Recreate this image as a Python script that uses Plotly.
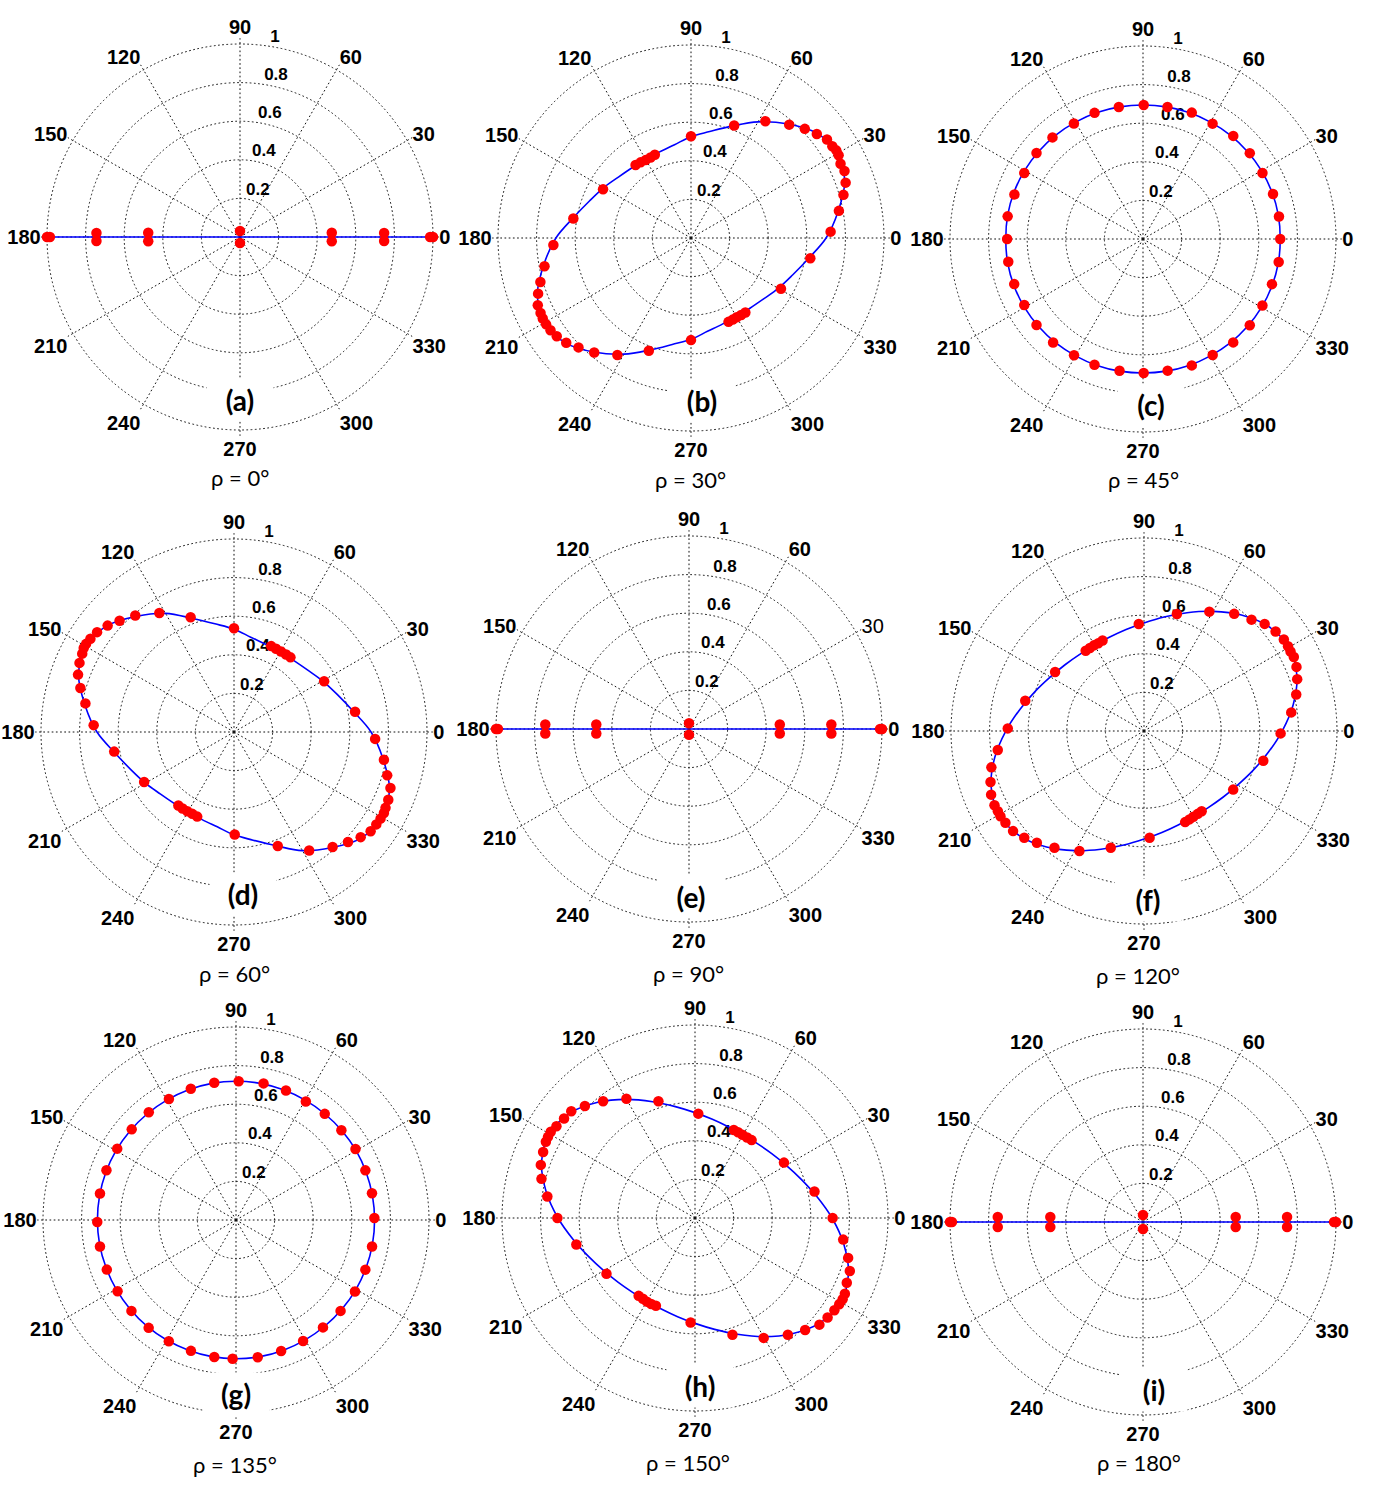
import plotly.graph_objs as go

W, H = 1376, 1488
R_PX = 193          # pixel radius of the r = 1 circle

# ---------------- data ----------------
PANEL_TAGS = ['(a)', '(b)', '(c)', '(d)', '(e)', '(f)', '(g)', '(h)', '(i)']
RHO_LABELS = ['ρ = 0°', 'ρ = 30°', 'ρ = 45°', 'ρ = 60°', 'ρ = 90°',
              'ρ = 120°', 'ρ = 135°', 'ρ = 150°', 'ρ = 180°']

ANGLE_TICKS = [0, 30, 60, 90, 120, 150, 180, 210, 240, 270, 300, 330]
RADIAL_TICKS = [0.2, 0.4, 0.6, 0.8, 1]
RADIAL_TICK_TEXT = ['0.2', '0.4', '0.6', '0.8', '1']

# theta grid used for the fitted (blue) curves
CURVE_THETA = [0, 10, 20, 30, 40, 50, 60, 70, 80, 90, 100, 110, 120, 130, 140, 150, 160, 170,
               180, 190, 200, 210, 220, 230, 240, 250, 260, 270, 280, 290, 300, 310, 320, 330,
               340, 350, 360]

# linear polarisation panels (a), (e), (i)
LINE_THETA = [0, 180]
LINE_R = [1, 1]

A_DOT_THETA = [0, 0, 1.6, -1.6, 2.6, -2.6, 90, 270, 182.6, 177.4, 181.6, 178.4, 180, 180]
A_DOT_R = [1.0, 0.985, 0.747, 0.747, 0.476, 0.476, 0.031, 0.031, 0.476, 0.476, 0.744, 0.744, 0.985, 1.0]

E_DOT_THETA = [0, 0, 1.8, -1.8, 2.8, -2.8, 90, 270, 182.8, 177.2, 181.8, 178.2, 180, 180]
E_DOT_R = [1.0, 0.99, 0.738, 0.738, 0.471, 0.471, 0.03, 0.03, 0.481, 0.481, 0.745, 0.745, 0.99, 1.0]

I_DOT_THETA = [0, 0, 2.0, -2.0, 3.1, -3.1, 90, 270, 183.1, 176.9, 182.0, 178.0, 180, 180]
I_DOT_R = [1.0, 0.99, 0.747, 0.747, 0.481, 0.481, 0.036, 0.036, 0.481, 0.481, 0.753, 0.753, 0.99, 1.0]

# rho = 30
B_DOT_THETA = [90, 69.0, 57.5, 49.1, 43.8, 39.6, 35.9, 33.0, 31.1, 29.3, 26.4, 23.6, 19.7, 15.8, 10.4,
               2.6, 350.4, 330.6, 306.1, 303.1, 300.0, 297.1, 294.1, 270, 249.5, 237.8, 229.8, 224.2,
               220.0, 216.2, 213.3, 210.8, 208.5, 206.5, 203.7, 200.0, 196.3, 190.9, 182.9, 170.6,
               151.0, 127.2, 123.7, 120.2, 116.7, 113.5]
B_DOT_R = [0.527, 0.624, 0.717, 0.777, 0.817, 0.846, 0.870, 0.873, 0.879, 0.877, 0.865, 0.868, 0.851,
           0.821, 0.779, 0.724, 0.627, 0.535, 0.478, 0.476, 0.474, 0.475, 0.476, 0.529, 0.624, 0.716,
           0.777, 0.813, 0.844, 0.862, 0.871, 0.874, 0.874, 0.871, 0.867, 0.843, 0.813, 0.773, 0.714,
           0.618, 0.521, 0.475, 0.471, 0.467, 0.467, 0.470]
B_CURVE_R = [0.700, 0.773, 0.847, 0.878, 0.847, 0.773, 0.695, 0.617, 0.560, 0.525, 0.491, 0.475, 0.470,
             0.475, 0.491, 0.522, 0.560, 0.617, 0.700, 0.773, 0.847, 0.878, 0.847, 0.773, 0.695, 0.617,
             0.560, 0.525, 0.491, 0.475, 0.470, 0.475, 0.491, 0.522, 0.560, 0.617, 0.700]

# rho = 45
C_DOT_THETA = [0, 9.4, 19.1, 28.9, 38.8, 48.8, 58.9, 68.9, 79.5, 89.7, 100.4, 111, 120.9, 131.7, 141.1,
               150.9, 160.9, 170.5, 180, 189.6, 199.3, 209.1, 218.9, 229, 239.3, 248.9, 259.9, 270.3,
               280.6, 291.1, 301, 311.1, 321.1, 330.9, 340.7, 350.4]
C_DOT_R = [0.711, 0.714, 0.713, 0.707, 0.710, 0.710, 0.698, 0.702, 0.696, 0.694, 0.695, 0.700, 0.697,
           0.705, 0.709, 0.704, 0.705, 0.711, 0.704, 0.708, 0.707, 0.704, 0.709, 0.710, 0.700, 0.698,
           0.693, 0.694, 0.694, 0.702, 0.701, 0.711, 0.711, 0.708, 0.708, 0.713]
C_CURVE_R = [0.711, 0.712, 0.711, 0.709, 0.706, 0.703, 0.699, 0.697, 0.695, 0.694, 0.695, 0.697, 0.699,
             0.703, 0.706, 0.709, 0.711, 0.712, 0.711, 0.712, 0.711, 0.709, 0.706, 0.703, 0.699, 0.697,
             0.695, 0.694, 0.695, 0.697, 0.699, 0.703, 0.706, 0.709, 0.711, 0.712, 0.711]

# rho = 60
D_DOT_THETA = [90, 110.7, 122.1, 130.3, 135.8, 139.9, 143.9, 147.0, 149.2, 150.8, 152.7, 155.9, 159.8,
               164.0, 169.1, 177.2, 189.3, 209.1, 232.9, 236.1, 239.5, 243.0, 246.5, 270.4, 291.0, 302.4,
               310.6, 316.0, 320.3, 324.0, 327.0, 329.4, 331.6, 333.4, 336.3, 340.3, 344.2, 349.5, 357.2,
               9.5, 29.4, 66.6, 63.2, 59.7, 56.1, 52.9]
D_DOT_R = [0.538, 0.636, 0.728, 0.791, 0.827, 0.856, 0.878, 0.887, 0.892, 0.892, 0.885, 0.877, 0.861,
           0.828, 0.784, 0.728, 0.629, 0.533, 0.478, 0.478, 0.477, 0.476, 0.478, 0.531, 0.633, 0.727,
           0.785, 0.821, 0.853, 0.875, 0.879, 0.882, 0.883, 0.878, 0.873, 0.861, 0.825, 0.790, 0.732,
           0.636, 0.536, 0.485, 0.483, 0.483, 0.484, 0.485]
D_CURVE_R = [0.710, 0.626, 0.569, 0.530, 0.499, 0.483, 0.480, 0.483, 0.499, 0.533, 0.569, 0.626, 0.710,
             0.783, 0.857, 0.888, 0.857, 0.783, 0.710, 0.626, 0.569, 0.530, 0.499, 0.483, 0.480, 0.483,
             0.499, 0.533, 0.569, 0.626, 0.710, 0.783, 0.857, 0.888, 0.857, 0.783, 0.710]

# rho = 120
F_DOT_THETA = [92.8, 74.3, 61.3, 52.4, 46.0, 41.6, 37.1, 33.2, 30.5, 28.5, 26.3, 22.8, 18.7, 13.5, 7.2,
               359.0, 346.0, 326.7, 294.3, 297.2, 299.9, 303.0, 305.7, 273.0, 254.1, 241.7, 232.5, 226.2,
               221.7, 217.4, 213.5, 210.7, 208.8, 206.4, 202.6, 198.4, 193.4, 187.4, 178.9, 165.7, 146.4,
               126.0, 123.1, 120.3, 117.5, 114.6]
F_DOT_R = [0.555, 0.630, 0.705, 0.766, 0.802, 0.836, 0.855, 0.866, 0.866, 0.864, 0.866, 0.857, 0.838,
           0.811, 0.769, 0.708, 0.637, 0.553, 0.518, 0.515, 0.513, 0.512, 0.512, 0.554, 0.629, 0.706,
           0.762, 0.802, 0.831, 0.854, 0.861, 0.865, 0.864, 0.865, 0.858, 0.838, 0.813, 0.764, 0.706,
           0.635, 0.553, 0.514, 0.513, 0.514, 0.513, 0.516]
F_CURVE_R = [0.716, 0.785, 0.843, 0.866, 0.843, 0.785, 0.716, 0.652, 0.600, 0.560, 0.534, 0.518, 0.513,
             0.518, 0.534, 0.560, 0.600, 0.652, 0.716, 0.785, 0.843, 0.866, 0.843, 0.785, 0.716, 0.652,
             0.600, 0.560, 0.534, 0.518, 0.513, 0.518, 0.534, 0.560, 0.600, 0.652, 0.716]

# rho = 135
G_DOT_THETA = [0.8, 11.1, 21.0, 30.7, 40.4, 50.1, 59.5, 68.9, 78.6, 88.9, 99, 109, 119, 129, 139, 149,
               159, 169, 180.8, 191, 201, 211, 221, 231, 241, 251, 261, 268.6, 279, 289, 299, 309, 319,
               329, 339, 349]
G_DOT_R = [0.717, 0.718, 0.718, 0.720, 0.717, 0.717, 0.713, 0.719, 0.722, 0.719, 0.720, 0.719, 0.717,
           0.718, 0.716, 0.718, 0.719, 0.718, 0.719, 0.718, 0.717, 0.716, 0.718, 0.719, 0.718, 0.717,
           0.719, 0.719, 0.720, 0.718, 0.717, 0.716, 0.718, 0.719, 0.718, 0.718]
G_CURVE_R = [0.718, 0.718, 0.718, 0.719, 0.718, 0.717, 0.717, 0.718, 0.719, 0.719, 0.719, 0.718, 0.717,
             0.717, 0.717, 0.718, 0.718, 0.718, 0.718, 0.718, 0.717, 0.717, 0.717, 0.718, 0.718, 0.718,
             0.719, 0.719, 0.719, 0.718, 0.717, 0.717, 0.717, 0.718, 0.718, 0.718, 0.718]

# rho = 150
H_DOT_THETA = [88.2, 107.4, 119.9, 128.2, 134.5, 139.2, 142.8, 146.5, 149.1, 151.1, 152.9, 156.5, 161.0,
               165.7, 171.7, 180.0, 192.6, 212.2, 234.1, 237.2, 240.1, 243.0, 246.0, 267.6, 287.8, 299.8,
               308.5, 314.5, 319.4, 323.1, 326.5, 329.1, 331.2, 333.2, 336.9, 341.1, 345.4, 351.7, 0.0,
               12.5, 31.9, 66.2, 63.3, 60.3, 57.1, 54.0]
H_DOT_R = [0.541, 0.634, 0.713, 0.770, 0.814, 0.847, 0.852, 0.861, 0.871, 0.870, 0.868, 0.858, 0.845,
           0.821, 0.773, 0.713, 0.630, 0.542, 0.498, 0.498, 0.500, 0.500, 0.498, 0.542, 0.635, 0.716,
           0.773, 0.814, 0.849, 0.859, 0.866, 0.871, 0.873, 0.870, 0.855, 0.848, 0.820, 0.776, 0.713,
           0.634, 0.543, 0.498, 0.497, 0.496, 0.497, 0.499]
H_CURVE_R = [0.710, 0.641, 0.586, 0.546, 0.519, 0.503, 0.498, 0.503, 0.519, 0.546, 0.586, 0.641, 0.710,
             0.783, 0.846, 0.872, 0.846, 0.783, 0.710, 0.641, 0.586, 0.546, 0.519, 0.503, 0.498, 0.503,
             0.519, 0.546, 0.586, 0.641, 0.710, 0.783, 0.846, 0.872, 0.846, 0.783, 0.710]

# ---------------- layout (pixel positions in the reference page) ----------------
PANEL_CENTERS = [(240, 237), (691, 238), (1143, 239),
                 (234, 732), (689, 729), (1144, 731),
                 (236, 1220), (695, 1218), (1143, 1222)]
TAG_POS = [(240, 400), (702, 401), (1151, 405),
           (243, 894), (691, 897), (1148, 900),
           (236, 1394), (700, 1386), (1154, 1390)]
RHO_POS = [(240, 477), (691, 480), (1143, 480),
           (234, 973), (688, 973), (1138, 975),
           (235, 1464), (688, 1462), (1139, 1462)]

R_MAX = 1.03          # a little past 1 so that the r = 1 grid circle is drawn
DOM_PX = R_PX * R_MAX
RLABEL_ANGLE = 81     # direction along which the radial tick labels sit
GRID = '#111111'
DASH = '1.7px,2.5px'
TICK_FONT = dict(family='Liberation Sans, Arial', size=20, color='black')
RTICK_FONT = dict(family='Liberation Sans, Arial', size=17, color='black', weight='bold')
LABEL_FONT = 'Lato, Carlito, Open Sans, sans-serif'

panels = [
    (LINE_THETA, LINE_R, A_DOT_THETA, A_DOT_R, 'linear'),
    (CURVE_THETA, B_CURVE_R, B_DOT_THETA, B_DOT_R, 'spline'),
    (CURVE_THETA, C_CURVE_R, C_DOT_THETA, C_DOT_R, 'spline'),
    (CURVE_THETA, D_CURVE_R, D_DOT_THETA, D_DOT_R, 'spline'),
    (LINE_THETA, LINE_R, E_DOT_THETA, E_DOT_R, 'linear'),
    (CURVE_THETA, F_CURVE_R, F_DOT_THETA, F_DOT_R, 'spline'),
    (CURVE_THETA, G_CURVE_R, G_DOT_THETA, G_DOT_R, 'spline'),
    (CURVE_THETA, H_CURVE_R, H_DOT_THETA, H_DOT_R, 'spline'),
    (LINE_THETA, LINE_R, I_DOT_THETA, I_DOT_R, 'linear'),
]


def px_x(x):
    return x / W


def px_y(y):
    return 1 - y / H


def polar_layout(cx, cy, plain_30=False):
    ang_text = []
    for t in ANGLE_TICKS:
        if plain_30 and t == 30:
            ang_text.append(str(t))
        else:
            ang_text.append('<b>%d</b>' % t)
    return dict(
        domain=dict(x=[px_x(cx - DOM_PX), px_x(cx + DOM_PX)],
                    y=[px_y(cy + DOM_PX), px_y(cy - DOM_PX)]),
        bgcolor='white',
        radialaxis=dict(range=[0, R_MAX], tickvals=RADIAL_TICKS, showticklabels=False,
                        angle=RLABEL_ANGLE, showline=False, ticks='',
                        gridcolor=GRID, griddash=DASH, gridwidth=1.4,
                        layer='below traces'),
        angularaxis=dict(tickvals=ANGLE_TICKS, ticktext=ang_text,
                         direction='counterclockwise', rotation=0,
                         showline=False, ticks='',
                         gridcolor=GRID, griddash=DASH, gridwidth=1.4,
                         tickfont=TICK_FONT, layer='below traces'),
    )


fig = go.Figure()
layout_polars = {}
annotations = []

for i, (c_theta, c_r, d_theta, d_r, shape) in enumerate(panels):
    name = 'polar' if i == 0 else 'polar%d' % (i + 1)
    cx, cy = PANEL_CENTERS[i]
    layout_polars[name] = polar_layout(cx, cy, plain_30=(i == 4))

    # radial tick labels, MATLAB style: bottom-left corner at (r, ~81 deg)
    fig.add_trace(go.Scatterpolar(
        r=RADIAL_TICKS, theta=[RLABEL_ANGLE] * len(RADIAL_TICKS), mode='text',
        text=RADIAL_TICK_TEXT, textposition='top right', textfont=RTICK_FONT,
        subplot=name, cliponaxis=False, hoverinfo='skip'))

    fig.add_trace(go.Scatterpolar(
        r=c_r, theta=c_theta, mode='lines', subplot=name,
        line=dict(color='#0000ff', width=1.6, shape=shape, smoothing=1),
        hoverinfo='skip'))
    fig.add_trace(go.Scatterpolar(
        r=d_r, theta=d_theta, mode='markers', subplot=name,
        marker=dict(color='#ff0000', size=10.5, line=dict(width=0))))

    tx, ty = TAG_POS[i]
    annotations.append(dict(
        text='<b>%s</b>' % PANEL_TAGS[i], x=px_x(tx), y=px_y(ty), xref='paper', yref='paper',
        xanchor='center', yanchor='middle', showarrow=False, bgcolor='white',
        width=64, height=40, font=dict(family=LABEL_FONT, size=28, color='black')))
    rx, ry = RHO_POS[i]
    annotations.append(dict(
        text=RHO_LABELS[i], x=px_x(rx), y=px_y(ry), xref='paper', yref='paper',
        xanchor='center', yanchor='middle', showarrow=False,
        font=dict(family=LABEL_FONT, size=22, color='black')))

fig.update_layout(
    width=W, height=H,
    margin=dict(l=0, r=0, t=0, b=0),
    paper_bgcolor='white',
    showlegend=False,
    annotations=annotations,
    **layout_polars)

# drop the browser's default 8px body margin so the figure sits at the page corner
fig.write_html('out.html', config={'displayModeBar': False},
               post_script="document.body.style.margin = '0';")
